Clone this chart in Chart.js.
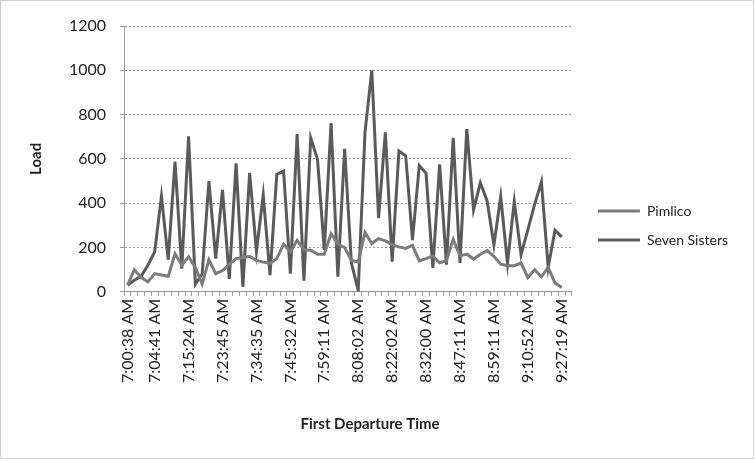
<!DOCTYPE html>
<html>
<head>
<meta charset="utf-8">
<script src="https://cdn.jsdelivr.net/npm/chart.js@4.4.1/dist/chart.umd.min.js"></script>
<style>
  html, body { margin: 0; padding: 0; background: #fff; }
  #wrap { width: 754px; height: 459px; }
</style>
</head>
<body>
<div id="wrap"><canvas id="chart" width="754" height="459"></canvas></div>
<script>
// ================= DATA =================
// departures in order; only some of them carry a label on the axis
const tickTimes = ['7:00:38 AM', '7:04:41 AM', '7:15:24 AM', '7:23:45 AM', '7:34:35 AM',
    '7:45:32 AM', '7:59:11 AM', '8:08:02 AM', '8:22:02 AM', '8:32:00 AM',
    '8:47:11 AM', '8:59:11 AM', '9:10:52 AM', '9:27:19 AM'];
const tickIndex = [0, 4, 9, 14, 19, 24, 29, 34, 39, 44, 49, 54, 59, 64];
const departureCount = 66;

const pimlico = [30, 100, 65, 45, 82, 76, 70, 172, 120, 158,
    110, 35, 145, 82, 96, 124, 150, 155, 160, 142,
    134, 128, 150, 215, 180, 232, 190, 188, 170, 170,
    262, 215, 200, 142, 135, 268, 218, 240, 230, 212,
    203, 196, 210, 140, 150, 162, 131, 140, 237, 162,
    170, 148, 170, 186, 160, 125, 118, 118, 130, 65,
    100, 68, 110, 40, 20];

const sevenSisters = [30, 52, 70, 120, 180, 432, 145, 588, 105, 702,
    35, 80, 500, 150, 460, 58, 580, 22, 537, 182,
    437, 75, 530, 545, 82, 712, 50, 695, 598, 189,
    762, 68, 645, 130, 5, 720, 1000, 333, 720, 136,
    636, 614, 233, 570, 535, 108, 575, 123, 695, 130,
    735, 370, 492, 410, 212, 430, 128, 408, 168, 280,
    395, 497, 110, 278, 248];

const yTicks = [0, 200, 400, 600, 800, 1000, 1200];
const xTitle = 'First Departure Time';

// ================= BUILD =================
const labels = [];
for (let i = 0; i < departureCount; i++) {
    const k = tickIndex.indexOf(i);
    labels.push(k >= 0 ? tickTimes[k] : '');
}

const FONT = "Lato, 'Open Sans', sans-serif";

const chartBg = {
    id: 'chartBg',
    afterLayout(chart) {
        // leave a gap between the plot and the legend
        chart.legend.left += 11;
        chart.legend.right += 11;
    },
    beforeDraw(chart) {
        const c = chart.ctx;
        c.save();
        c.fillStyle = '#fff';
        c.fillRect(0, 0, chart.width, chart.height);
        c.strokeStyle = '#cfcfcf';
        c.lineWidth = 1;
        c.strokeRect(0.5, 0.5, chart.width - 1, chart.height - 1);
        c.restore();
    },
    afterDraw(chart) {
        // x axis title, centred on the whole chart like the original
        const c = chart.ctx;
        const xs = chart.scales.x;
        c.save();
        c.fillStyle = '#222';
        c.font = "bold 15px " + FONT;
        c.textAlign = 'center';
        c.textBaseline = 'middle';
        c.fillText(xTitle, chart.width / 2 - 7, xs.bottom - 1);
        c.restore();
    }
};

new Chart(document.getElementById('chart'), {
    type: 'line',
    data: {
        labels: labels,
        datasets: [
            {
                label: 'Pimlico',
                data: pimlico,
                borderColor: '#7c7c7c',
                backgroundColor: '#7c7c7c',
                borderWidth: 3,
                pointRadius: 0,
                tension: 0
            },
            {
                label: 'Seven Sisters',
                data: sevenSisters,
                borderColor: '#5a5a5a',
                backgroundColor: '#5a5a5a',
                borderWidth: 3,
                pointRadius: 0,
                tension: 0
            }
        ]
    },
    options: {
        responsive: false,
        animation: false,
        layout: { padding: { top: 26, left: 25, right: 27, bottom: 34 } },
        plugins: {
            legend: {
                position: 'right',
                labels: {
                    usePointStyle: true,
                    pointStyle: 'line',
                    pointStyleWidth: 42,
                    padding: 15,
                    color: '#222',
                    font: { family: FONT, size: 14 }
                }
            },
            tooltip: { enabled: false }
        },
        scales: {
            x: {
                offset: true,
                grid: {
                    offset: true,
                    drawOnChartArea: false,
                    drawTicks: true,
                    tickLength: 4,
                    color: '#9a9a9a'
                },
                border: { color: '#9a9a9a' },
                ticks: {
                    autoSkip: false,
                    minRotation: 90,
                    maxRotation: 90,
                    padding: 3,
                    color: '#222',
                    font: { family: FONT, size: 16 },
                    callback: (v, i) => labels[i]
                },
                afterFit: (scale) => { scale.height += 39; }
            },
            y: {
                min: 0,
                max: 1200,
                afterBuildTicks: (scale) => {
                    scale.ticks = yTicks.map(v => ({ value: v }));
                },
                grid: {
                    color: '#9a9a9a',
                    tickLength: 4
                },
                border: { color: '#9a9a9a', dash: [2, 2] },
                ticks: {
                    padding: 14,
                    color: '#222',
                    font: { family: FONT, size: 16 },
                    callback: (v) => String(v)
                },
                title: {
                    display: true,
                    text: 'Load',
                    color: '#222',
                    font: { family: FONT, size: 15, weight: 'bold' },
                    padding: { top: 2, bottom: 10 }
                }
            }
        }
    },
    plugins: [chartBg]
});
</script>
</body>
</html>
